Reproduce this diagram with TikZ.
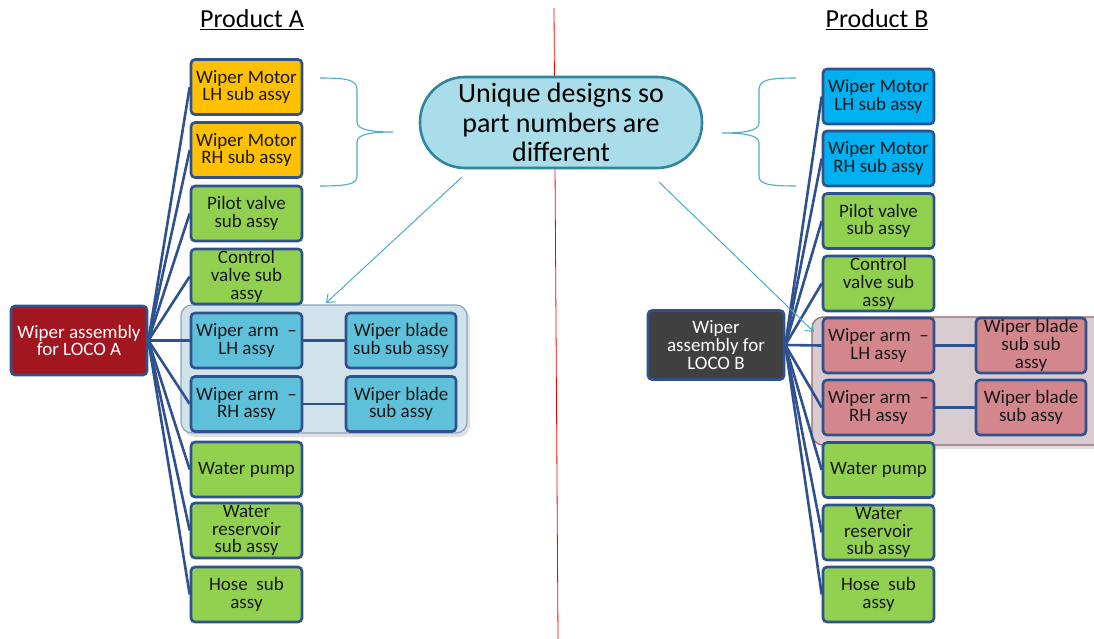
\documentclass[tikz,border=0pt]{standalone}
\usepackage{fontspec}
\setmainfont{Carlito}
\usetikzlibrary{arrows.meta}
\definecolor{edgeblue}{HTML}{2F528F}
\definecolor{motorA}{HTML}{FFC000}
\definecolor{motorB}{HTML}{00B0F0}
\definecolor{leafgreen}{HTML}{92D050}
\definecolor{armA}{HTML}{5FC0DA}
\definecolor{armB}{HTML}{D4868D}
\definecolor{groupA}{HTML}{D0E2EA}
\definecolor{groupAline}{HTML}{8EA3BF}
\definecolor{groupB}{HTML}{D9CCD1}
\definecolor{groupBline}{HTML}{946470}
\definecolor{rootA}{HTML}{A3161F}
\definecolor{rootB}{HTML}{404040}
\definecolor{calloutfill}{HTML}{A9DDE9}
\definecolor{calloutline}{HTML}{31859C}
\definecolor{notecyan}{HTML}{4BACC6}
\begin{document}
\begin{tikzpicture}[x=1pt,y=-1pt,
  part/.style={draw=edgeblue, line width=2.6pt, rounded corners=4pt,
    minimum width=111pt, minimum height=55pt, inner sep=0pt, align=center,
    text=black!90, font=\fontsize{19}{17.7}\selectfont},
  rootbox/.style={part, minimum width=136pt, minimum height=69pt, text=white},
  group/.style={line width=1.2pt, rounded corners=11pt},
  link/.style={draw=edgeblue, line width=2.6pt},
  brace/.style={draw=notecyan, line width=1.1pt},
  note/.style={draw=notecyan, line width=1pt, -{Straight Barb[length=7pt,width=11pt]}},
  title/.style={font=\fontsize{26}{28}\selectfont}
]
\useasboundingbox (0,0) rectangle (1094,639);
\clip (0,0) rectangle (1094,639);

% divider between the two products
\draw[red, line width=0.8pt] (554,8) -- (558,639);

% titles
\node[title] (titleA) at (252,20) {\underline{Product A}};
\node[title] (titleB) at (877,20) {\underline{Product B}};

% grouping panels behind the wiper arm rows
\fill[black!12, rounded corners=11pt] (184,308) rectangle (470,437);
\filldraw[group, fill=groupA, draw=groupAline] (181,305) rectangle (467,433);
\fill[black!12, rounded corners=11pt] (816,320) rectangle (1112,449);
\filldraw[group, fill=groupB, draw=groupBline] (812,317) rectangle (1110,445);

% ---- Product A ----
\node[rootbox, fill=rootA] (rA) at (79,340.5) {Wiper assembly\\for LOCO A};
\node[part, fill=motorA] (a1) at (246.5,87) {Wiper Motor\\LH sub assy};
\node[part, fill=motorA] (a2) at (246.5,150) {Wiper Motor\\RH sub assy};
\node[part, fill=leafgreen] (a3) at (246.5,213.5) {Pilot valve\\sub assy};
\node[part, fill=leafgreen] (a4) at (246.5,276.5) {Control\\valve sub\\assy};
\node[part, fill=armA] (a5) at (246.5,340.5) {Wiper arm~~–\\LH assy};
\node[part, fill=armA] (a6) at (246.5,404) {Wiper arm~~–\\RH assy};
\node[part, fill=leafgreen] (a7) at (246.5,469.5) {Water pump};
\node[part, fill=leafgreen] (a8) at (246.5,530.5) {Water\\reservoir\\sub assy};
\node[part, fill=leafgreen] (a9) at (246.5,594.5) {Hose~~sub\\assy};
\node[part, fill=armA, minimum width=110pt] (a5b) at (401,340.5) {Wiper blade\\sub sub assy};
\node[part, fill=armA, minimum width=110pt] (a6b) at (401,404) {Wiper blade\\sub assy};

\foreach \k in {1,...,9} \draw[link] (rA.east) -- (a\k.west);
\draw[link] (a5.east) -- (a5b.west);
\draw[link] (a6.east) -- (a6b.west);

% ---- Product B ----
\node[rootbox, fill=rootB] (rB) at (716,345) {Wiper\\assembly for\\LOCO B};
\node[part, fill=motorB] (b1) at (878.5,96.5) {Wiper Motor\\LH sub assy};
\node[part, fill=motorB] (b2) at (878.5,158.5) {Wiper Motor\\RH sub assy};
\node[part, fill=leafgreen] (b3) at (878.5,221) {Pilot valve\\sub assy};
\node[part, fill=leafgreen] (b4) at (878.5,283.5) {Control\\valve sub\\assy};
\node[part, fill=armB] (b5) at (878.5,345.5) {Wiper arm~~–\\LH assy};
\node[part, fill=armB] (b6) at (878.5,407.5) {Wiper arm~~–\\RH assy};
\node[part, fill=leafgreen] (b7) at (878.5,470) {Water pump};
\node[part, fill=leafgreen] (b8) at (878.5,532.5) {Water\\reservoir\\sub assy};
\node[part, fill=leafgreen] (b9) at (878.5,594.5) {Hose~~sub\\assy};
\node[part, fill=armB, minimum width=110pt] (b5b) at (1031,345.5) {Wiper blade\\sub sub\\assy};
\node[part, fill=armB, minimum width=110pt] (b6b) at (1031,407.5) {Wiper blade\\sub assy};

\foreach \k in {1,...,9} \draw[link] (rB.east) -- (b\k.west);
\draw[link] (b5.east) -- (b5b.west);
\draw[link] (b6.east) -- (b6b.west);

% ---- shared note ----
\node[draw=calloutline, fill=calloutfill, line width=2.6pt, rounded corners=45pt,
  minimum width=282pt, minimum height=91pt, align=center, inner sep=0pt,
  font=\fontsize{28}{29.5}\selectfont] (note) at (561,122.5)
  {Unique designs so\\part numbers are\\different};

% braces grouping the motor rows
\draw[brace] (320,78) .. controls (348,78) and (357,80) .. (357,90) -- (357,122)
  .. controls (357,130) and (372,132) .. (393,132)
  .. controls (372,132) and (357,134) .. (357,142) -- (357,176)
  .. controls (357,184) and (348,186) .. (320,186);
\draw[brace] (796,78) .. controls (768,78) and (759,80) .. (759,90) -- (759,123)
  .. controls (759,131) and (744,133) .. (722,133)
  .. controls (744,133) and (759,135) .. (759,143) -- (759,176)
  .. controls (759,184) and (768,186) .. (796,186);

% pointers from the note to the two wiper arm groups
\coordinate (nA) at (462,177);
\coordinate (gA) at (326,303);
\coordinate (nB) at (659,182);
\coordinate (gB) at (814,332);
\draw[note] (nA) -- (gA);
\draw[note] (nB) -- (gB);
\end{tikzpicture}
\end{document}
